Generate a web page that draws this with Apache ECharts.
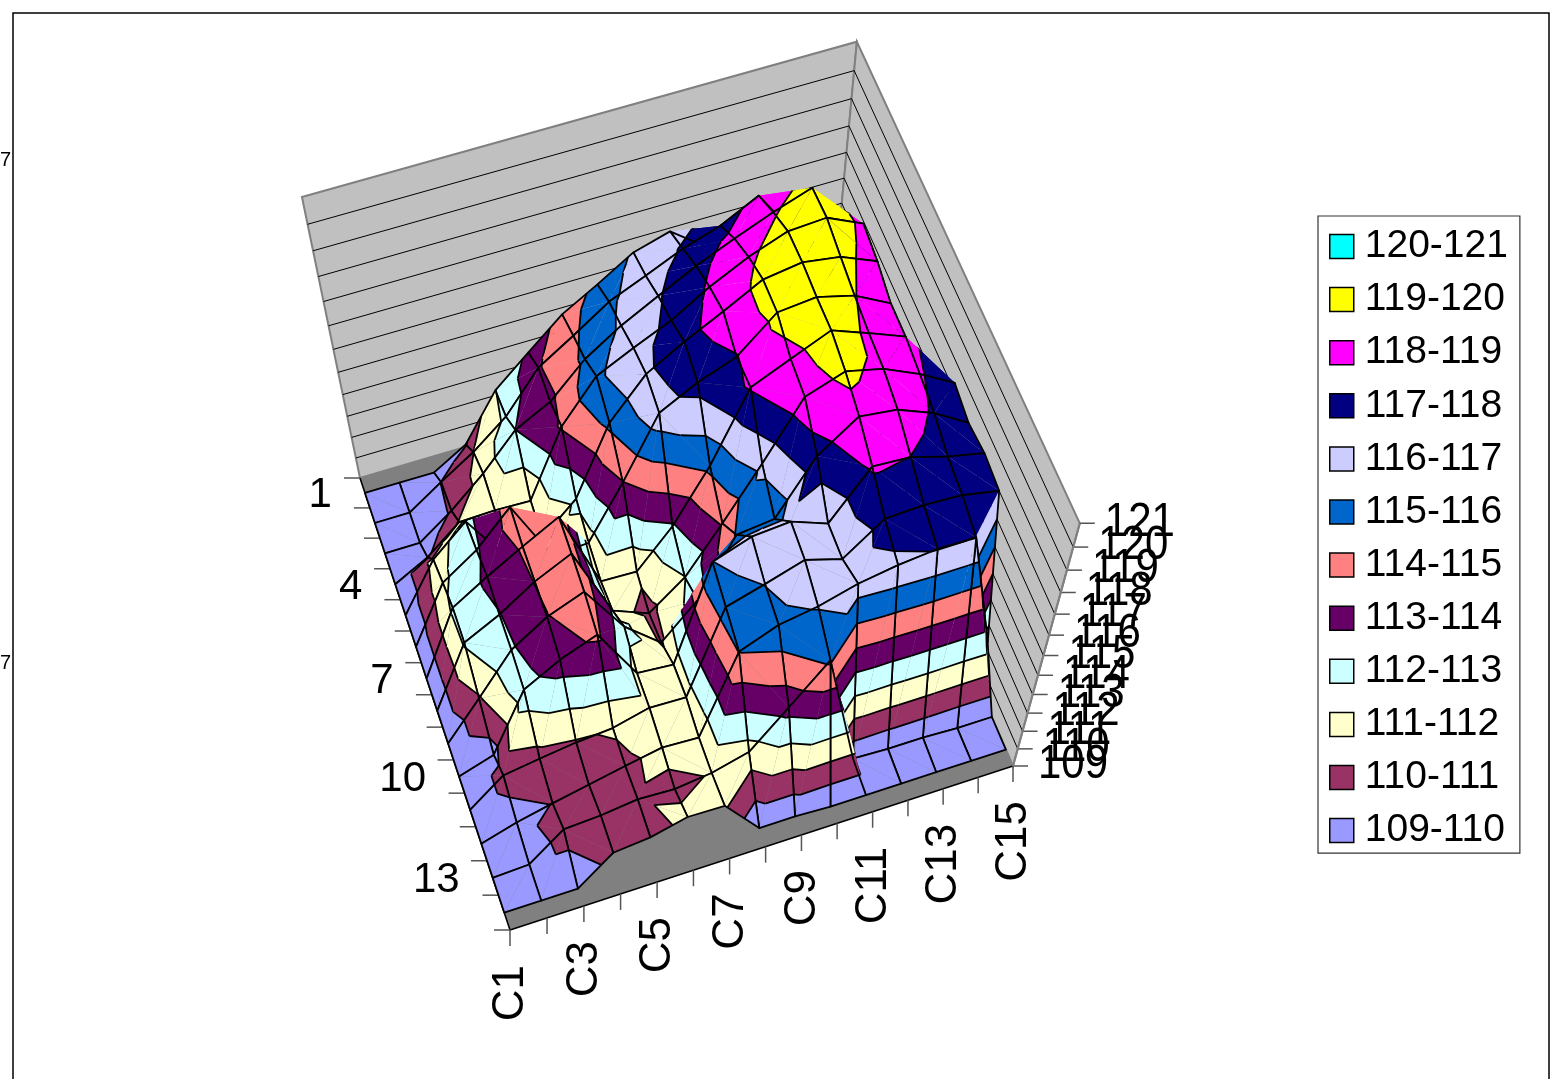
<!DOCTYPE html>
<html><head><meta charset="utf-8"><style>html,body{margin:0;padding:0;background:#fff;overflow:hidden}#c{width:1557px;height:1079px}</style>
<script src="https://cdn.jsdelivr.net/npm/echarts@6/dist/echarts.min.js"></script></head><body><div id="c"></div>
<script>
const columnLabels=["C1","C3","C5","C7","C9","C11","C13","C15"];
const rowLabels=["1","4","7","10","13"];
const zLabels=[109,110,111,112,113,114,115,116,117,118,119,120,121];
const bandLabels=["120-121","119-120","118-119","117-118","116-117","115-116","114-115","113-114","112-113","111-112","110-111","109-110"];
const bandColors=["#00FFFF","#FFFF00","#FF00FF","#000080","#CCCCFF","#0066CC","#FF8080","#660066","#CCFFFF","#FFFFCC","#993366","#9999FF"];
const row1=[109,109,109,109.89,111.98,113.22,114.43,115.25,116.13,116.55,115.5,115.5,115,114,112];
const row2=[109,109,110.02,110.99,112.17,113.91,114.84,115.82,116.45,117.1,117.58,118.32,116.5,115,112.5];
const row3=[109,109,110.11,111.43,112.99,113.78,115.18,116.14,116.91,117.67,118.31,118.9,119.4,116.5,113];
const row4=[109,109.85,111.1,111.15,111.1,114.09,115.82,116.55,117.22,118.12,118.85,119.4,119.49,118.85,113];
const row5=[109,111.35,112.7,110.3,110.8,112.2,115.2,116.82,117.69,118.45,119.25,119.47,119.25,118.65,113.5];
const row6=[109,111.8,112.88,114.4,111.5,111.6,113.97,116.57,117.38,117.96,119.27,119.42,119.03,118.28,114];
const row7=[109,112.2,113.19,114.1,114.96,111.27,111.2,112.9,115.2,118.08,118.77,119.44,118.87,118.28,114.5];
const row8=[109,112.11,112.96,114.03,114.82,111.42,110.7,111.98,114.07,116.27,118.61,119.17,118.8,118.11,117.28];
const row9=[109,110.91,112.88,113.96,114.62,112.3,110.87,112.5,115.1,115.3,117.58,118.74,118.53,117.9,117];
const row10=[109,109.6,112.58,113.53,114.2,111.61,111.45,115.99,116.6,116.74,116.11,118.1,117.99,117.51,117.15];
const row11=[109,110.36,110.65,110.91,111.07,111.55,111.48,115.5,116.02,116.58,116.07,117.35,117.42,117.33,117];
const row12=[109,109.58,110.03,110.44,110.84,111.22,111.13,115.03,115.75,116.05,116.55,116.85,117.03,116.99,111.3];
const row13=[109,109.1,110.53,110.65,110.9,110.8,111.05,111.57,113.35,115.15,109.2,109.1,109.1,109,109];
const row14=[109,109,109,110.5,110.7,111.2,111.15,109.1,109.1,109,109,109,109,109,109];
const rows=[row1,row2,row3,row4,row5,row6,row7,row8,row9,row10,row11,row12,row13,row14];

// view: a perspective camera set up from the corners of the floor
const BL=[360,478],BR=[829,340],FR=[1013,766],FL=[510,930],NADIR=[674,1998];
const DEPTH={BL:76.9,BR:78.7,FR:72.9,FL:71.1};
const Z0=109,Z1=121;
const hom=(()=>{const [x0,y0]=BL,[x1,y1]=BR,[x2,y2]=FR,[x3,y3]=FL;
 const dx1=x1-x2,dx2=x3-x2,sx=x0-x1+x2-x3,dy1=y1-y2,dy2=y3-y2,sy=y0-y1+y2-y3,den=dx1*dy2-dx2*dy1;
 const g=(sx*dy2-dx2*sy)/den,h=(dx1*sy-sx*dy1)/den;
 return {a:x1-x0+g*x1,b:x3-x0+h*x3,c:x0,d:y1-y0+g*y1,e:y3-y0+h*y3,f:y0,g,h};})();
function project(u,v,z){const s=u/14,t=v/14,m=hom,w=m.g*s+m.h*t+1;
 const gx=(m.a*s+m.b*t+m.c)/w,gy=(m.d*s+m.e*t+m.f)/w;
 const D=DEPTH.BL*(1-s)*(1-t)+DEPTH.BR*s*(1-t)+DEPTH.FR*s*t+DEPTH.FL*(1-s)*t;
 const k=1/(1-(z-Z0)/D);
 return [NADIR[0]+(gx-NADIR[0])*k,NADIR[1]+(gy-NADIR[1])*k];}
const FONT='"Liberation Sans",Arial,sans-serif';
const LW=1.8;

function clipBand(tri,lo,hi){
 const clip=(poly,keep,level)=>{const out=[];for(let i=0;i<poly.length;i++){const a=poly[i],b=poly[(i+1)%poly.length];
   const ka=keep(a[2]),kb=keep(b[2]);if(ka)out.push(a);
   if(ka!==kb){const t=(level-a[2])/(b[2]-a[2]);out.push([a[0]+t*(b[0]-a[0]),a[1]+t*(b[1]-a[1]),level]);}}return out;};
 let p=clip(tri,z=>z>=lo,lo);if(p.length<3)return null;
 p=clip(p,z=>z<=hi,hi);return p.length<3?null:p;}
function contour(tri,level){const pts=[];for(let i=0;i<3;i++){const a=tri[i],b=tri[(i+1)%3];
  if((a[2]-level)*(b[2]-level)<0){const t=(level-a[2])/(b[2]-a[2]);pts.push([a[0]+t*(b[0]-a[0]),a[1]+t*(b[1]-a[1]),level]);}}
 return pts.length===2?pts:null;}

function renderCell(params,api){
 const r=api.value(0),c=api.value(1);
 const pt=(cc,rr)=>[cc,rr+0.5,rows[rr][cc]];
 const A=pt(c,r),B=pt(c+1,r),C=pt(c+1,r+1),E=pt(c,r+1);
 const P=q=>api.coord(project(q[0],q[1],q[2]));
 const tris=(A[2]+C[2]>=B[2]+E[2])?[[A,B,C],[A,C,E]]:[[A,B,E],[B,C,E]];
 const ch=[];
 tris.forEach(tri=>{
  for(let i=bandColors.length-1;i>=0;i--){const lo=Z0+(bandColors.length-1-i),hi=lo+1;
   const poly=clipBand(tri,lo,hi);
   if(poly)ch.push({type:'polygon',shape:{points:poly.map(P)},style:{fill:bandColors[i]},silent:true});}
  for(let l=Z0+1;l<Z1;l++){const s=contour(tri,l);
   if(s)ch.push({type:'polyline',shape:{points:s.map(P)},style:{stroke:'#000',lineWidth:LW,fill:null},silent:true});}
  });
 ch.push({type:'polyline',shape:{points:[A,B,C,E,A].map(P)},style:{stroke:'#000',lineWidth:LW,fill:null,lineJoin:'round'},silent:true});
 return {type:'group',children:ch};
}

function renderFrame(params,api){
 const P=(u,v,z)=>api.coord(project(u,v,z));const ch=[];
 const line=(pts,stroke,lw)=>ch.push({type:'polyline',shape:{points:pts},style:{stroke,lineWidth:lw,fill:null},silent:true});
 ch.push({type:'polygon',shape:{points:[P(0,0,Z0),P(14,0,Z0),P(14,0,Z1),P(0,0,Z1)]},style:{fill:'#C0C0C0',stroke:'#808080',lineWidth:2},silent:true});
 ch.push({type:'polygon',shape:{points:[P(14,0,Z0),P(14,14,Z0),P(14,14,Z1),P(14,0,Z1)]},style:{fill:'#C0C0C0',stroke:'#808080',lineWidth:2},silent:true});
 for(let z=Z0+1;z<Z1;z++){line([P(0,0,z),P(14,0,z),P(14,14,z)],'#000',1);}
 ch.push({type:'polygon',shape:{points:[P(0,0,Z0),P(14,0,Z0),P(14,14,Z0),P(0,14,Z0)]},style:{fill:'#808080'},silent:true});
 line([P(0,0,Z0),P(0,14,Z0),P(14,14,Z0)],'#000',1.6);
 // ticks
 for(let u=0;u<=14;u++){const p=P(u,14,Z0);line([p,[p[0],p[1]+16]],'#555',1.5);}
 for(let v=0;v<=14;v++){const p=P(0,v,Z0);line([p,[p[0]-16,p[1]]],'#555',1.5);}
 zLabels.forEach(z=>{const p=P(14,14,z);line([p,[p[0]+15,p[1]]],'#555',1.5);});
 line([P(14,14,Z0),P(14,14,Z1)],'#808080',2);
 // labels
 columnLabels.forEach(t=>{const c=+t.slice(1)-1,p=P(c,14,Z0);
  ch.push({type:'text',x:p[0]+1,y:p[1]+35,rotation:Math.PI/2,style:{text:t,fontSize:44,fontFamily:FONT,fill:'#000',align:'right',verticalAlign:'middle'},silent:true});});
 rowLabels.forEach(t=>{const p=P(0,+t-0.5,Z0);
  ch.push({type:'text',x:p[0]-33,y:p[1]+3,style:{text:t,fontSize:42,fontFamily:FONT,fill:'#000',align:'right',verticalAlign:'middle'},silent:true});});
 zLabels.forEach(z=>{const p=P(14,14,z);
  ch.push({type:'text',x:p[0]+25,y:p[1]-1,scaleY:1.15,style:{text:String(z),fontSize:42,fontFamily:FONT,fill:'#000',align:'left',verticalAlign:'middle'},silent:true});});
 return {type:'group',children:ch};
}

const cells=[];
for(let r=0;r<rows.length-1;r++)for(let c=rows[0].length-2;c>=0;c--)cells.push([r,c]);
const chart=echarts.init(document.getElementById('c'),null,{renderer:'canvas'});
chart.setOption({
 animation:false,backgroundColor:'#fff',
 grid:{left:0,top:0,width:1557,height:1079},
 xAxis:{type:'value',min:0,max:1557,show:false},
 yAxis:{type:'value',min:0,max:1079,inverse:true,show:false},
 tooltip:{show:false},
 legend:{orient:'vertical',left:1318,top:216,padding:[11,12,3,11],itemWidth:24,itemHeight:24,itemGap:14.1,itemStyle:{borderColor:'#000',borderWidth:1.5,opacity:1},
  backgroundColor:'#fff',borderColor:'#333',borderWidth:1.2,selectedMode:false,textStyle:{fontSize:39,lineHeight:38,fontFamily:FONT,color:'#000',padding:[0,0,0,6]},
  data:bandLabels.map(n=>({name:n,icon:'rect'}))},
 graphic:[
  {type:'polyline',shape:{points:[[13,1079],[13,13],[1549,13],[1549,1079]]},style:{stroke:'#000',lineWidth:1.5,fill:null},silent:true},
  {type:'text',x:0,y:150,style:{text:'7',fontSize:20,fontFamily:FONT,fill:'#000'},silent:true},
  {type:'text',x:0,y:653,style:{text:'7',fontSize:20,fontFamily:FONT,fill:'#000'},silent:true}
 ],
 series:[
  {type:'custom',coordinateSystem:'cartesian2d',renderItem:renderFrame,data:[[0,0]],clip:false,silent:true,z:1},
  {type:'custom',coordinateSystem:'cartesian2d',renderItem:renderCell,data:cells,clip:false,silent:true,z:2,progressive:0,encode:{x:1,y:0}},
  ...bandLabels.map((n,i)=>({type:'scatter',name:n,data:[],itemStyle:{color:bandColors[i],opacity:1}}))
 ]
});
</script></body></html>
